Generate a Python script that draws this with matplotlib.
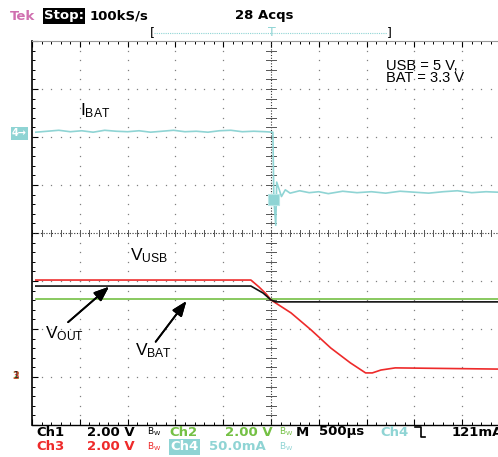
import numpy as np
import matplotlib.pyplot as plt
from matplotlib.patches import Rectangle
from matplotlib.lines import Line2D

plt.rcParams['mathtext.default'] = 'regular'

W, H = 498, 457

# time in ms relative to trigger, 500 us/div
t_vusb = [-2.46, -0.21, -0.125, -0.05, 0.0, 0.21, 0.42, 0.625, 0.83, 0.99, 1.06, 1.15, 1.30, 2.375]
v_usb = [4.08, 4.08, 3.79, 3.50, 3.25, 2.71, 2.00, 1.25, 0.63, 0.21, 0.21, 0.33, 0.42, 0.37]

t_vout = [-2.46, -0.21, -0.083, 0.0, 0.05, 2.375]
v_out = [3.83, 3.83, 3.54, 3.25, 3.17, 3.17]

t_vbat = [-2.46, 2.375]
v_bat = [3.29, 3.29]

t_ibat = [-2.46, -2.34, -2.22, -2.1, -1.98, -1.86, -1.74, -1.62, -1.5, -1.38, -1.26,
          -1.14, -1.02, -0.9, -0.78, -0.66, -0.54, -0.42, -0.3, -0.18, -0.06, 0.02,
          0.03, 0.05, 0.06, 0.08, 0.11, 0.15, 0.2, 0.3, 0.4, 0.5, 0.6, 0.75, 0.9,
          1.05, 1.2, 1.35, 1.5, 1.65, 1.8, 1.95, 2.1, 2.25, 2.375]
i_bat = [0, 1, 2, 0.5, 1.5, 0, 2, 1, 0.5, 1.5, 0, 1, 2, 0.5, 1, 0, 1.5, 2, 0.5, 1, 0.5, 0,
         -70, -97, -52, -58, -67, -60, -63.5, -61, -63, -62, -64, -61.5, -63,
         -62, -63.5, -61.5, -62.5, -63.5, -62, -61, -63, -62, -62.5]

# scope settings
volts_per_div = 2.0
ma_per_div = 50.0
pos_v = -3.02   # ground position of Ch1-3 (div)
pos_i = 2.1     # ground position of Ch4 (div)

c_red = '#ee2a2a'
c_green = '#74c044'
c_cyan = '#8fd4d4'
c_grid = '#808080'


def fx(x):
    return x / W


def fy(y):
    return 1 - y / H


fig = plt.figure(figsize=(W / 100, H / 100), dpi=100)
ax = fig.add_axes([fx(32), fy(425), (W - 32) / W, 384 / H])
ax.set_xlim((32 - 270) / 96, (W - 270) / 96)
ax.set_ylim(-4, 4)

# graticule
for k in range(-4, 5):
    if k == 0:
        continue
    yy = np.arange(-4, 4.01, 0.2)
    ax.plot(np.full_like(yy, k * 0.5), yy, ls='none', marker='s', ms=0.9, color=c_grid, mew=0)
for k in range(-3, 4):
    if k == 0:
        continue
    xx = np.arange(-2.5, 2.5, 0.1)
    ax.plot(xx, np.full_like(xx, k), ls='none', marker='s', ms=0.9, color=c_grid, mew=0)
ax.axhline(0, color='#333333', lw=0.8, ls=(0, (1, 1.5)))
ax.axvline(0, color='#333333', lw=0.8, ls=(0, (1, 1.5)))
for x in np.arange(-2.5, 2.5, 0.1):
    ax.plot([x, x], [-0.07, 0.07], color='#555555', lw=0.7)
for y in np.arange(-4, 4.01, 0.2):
    ax.plot([-0.05, 0.05], [y, y], color='#555555', lw=0.7)

# traces
ax.plot(t_ibat, np.array(i_bat) / ma_per_div + pos_i, color=c_cyan, lw=1.2)
ax.plot(t_vbat, np.array(v_bat) / volts_per_div + pos_v, color=c_green, lw=1.2)
ax.plot(t_vusb, np.array(v_usb) / volts_per_div + pos_v, color=c_red, lw=1.2)
ax.plot(t_vout, np.array(v_out) / volts_per_div + pos_v, color='#111111', lw=1.2)

ax.set_xticks(np.arange(-2.5, 2.4, 0.5))
ax.set_xticks(np.arange(-2.5, 2.4, 0.1), minor=True)
ax.set_yticks(np.arange(-4, 4.1, 1))
ax.set_yticks(np.arange(-4, 4.1, 0.2), minor=True)
ax.tick_params(which='both', direction='in', top=True, bottom=True, left=True, right=False,
               labelbottom=False, labelleft=False)
ax.tick_params(which='major', length=4, width=0.8)
ax.tick_params(which='minor', length=2.5, width=0.7)
for tk in ax.xaxis.get_major_ticks() + ax.xaxis.get_minor_ticks():
    tk.tick2line.set_color('#999999')
ax.spines['right'].set_visible(False)
ax.spines['top'].set_color('#999999')
ax.spines['left'].set_linewidth(1.2)
ax.spines['bottom'].set_linewidth(1.0)

# annotations
lab = dict(transform=fig.transFigure, fontsize=12.5, family='Liberation Sans')
ax.text(fx(80), fy(115), r'$I_{BAT}$', **lab)
ax.text(fx(130), fy(260), r'$V_{USB}$', **lab)
ax.text(fx(45), fy(338), r'$V_{OUT}$', **lab)
ax.text(fx(135), fy(355), r'$V_{BAT}$', **lab)
fig.text(fx(386), fy(69.5), 'USB = 5 V,', family='Liberation Sans', fontsize=10.5)
fig.text(fx(386), fy(82), 'BAT = 3.3 V', family='Liberation Sans', fontsize=10.5)
arrow = dict(arrowstyle='-|>,head_length=0.9,head_width=0.35', color='black', lw=1.3)
fig.add_artist(plt.annotate('', xy=(fx(111), fy(285)), xytext=(fx(66), fy(324)),
                            xycoords='figure fraction', arrowprops=arrow))
fig.add_artist(plt.annotate('', xy=(fx(188), fy(299)), xytext=(fx(154), fy(344)),
                            xycoords='figure fraction', arrowprops=arrow))

# left channel markers
fig.text(fx(12), fy(133.5), '4\u2192', color='white', fontsize=7, va='center', weight='bold',
         bbox=dict(boxstyle='square,pad=0.15', fc=c_cyan, ec='none'))
fig.text(fx(12), fy(376), '2', color=c_green, fontsize=7, va='center', weight='bold')
fig.text(fx(12), fy(376), '3', color=c_red, fontsize=7, va='center', weight='bold', alpha=0.8)
fig.text(fx(13), fy(376), '1', color='#222222', fontsize=6, va='center')

# trigger level marker on Ch4
fig.add_artist(Rectangle((fx(268), fy(205)), 11 / W, 11 / H, transform=fig.transFigure,
                         fc=c_cyan, ec='#b8e6e6', lw=0.8))

# header
st = dict(fontsize=9.5, va='center', weight='bold')
fig.text(fx(10), fy(16), 'Tek', color='#d070b0', **st)
fig.text(fx(44), fy(16), 'Stop:', color='white',
         bbox=dict(boxstyle='square,pad=0.1', fc='black', ec='none'), **st)
fig.text(fx(90), fy(16), '100kS/s', **st)
fig.text(fx(235), fy(16), '28 Acqs', **st)
fig.text(fx(150), fy(33), '[', fontsize=9, va='center')
fig.text(fx(387), fy(33), ']', fontsize=9, va='center')
fig.add_artist(Line2D([fx(154), fx(387)], [fy(33), fy(33)], transform=fig.transFigure,
                      color=c_cyan, lw=0.8, ls=(0, (1, 1))))
fig.text(fx(272), fy(33), 'T', color=c_cyan, fontsize=9, va='center', ha='center')

# footer row 1
bw = r'$B_W$'
fig.text(fx(36), fy(432), 'Ch1', **st)
fig.text(fx(87), fy(432), '2.00 V', **st)
fig.text(fx(147), fy(432), bw, fontsize=6.5, va='center')
fig.text(fx(169), fy(432), 'Ch2', color=c_green, **st)
fig.text(fx(225), fy(432), '2.00 V', color=c_green, **st)
fig.text(fx(279), fy(432), bw, fontsize=6.5, va='center', color=c_green)
fig.text(fx(296), fy(432), 'M', **st)
fig.text(fx(319), fy(432), '500\u00b5s', **st)
fig.text(fx(380), fy(432), 'Ch4', color=c_cyan, **st)
fig.add_artist(Line2D([fx(415), fx(421), fx(421), fx(425)], [fy(427), fy(427), fy(437), fy(437)],
                      transform=fig.transFigure, color='black', lw=1.2))
fig.text(fx(452), fy(432), '121mA', **st)

# footer row 2
fig.text(fx(36), fy(447), 'Ch3', color=c_red, **st)
fig.text(fx(87), fy(447), '2.00 V', color=c_red, **st)
fig.text(fx(147), fy(447), bw, fontsize=6.5, va='center', color=c_red)
fig.text(fx(170), fy(447), 'Ch4', color='white',
         bbox=dict(boxstyle='square,pad=0.1', fc=c_cyan, ec='none'), **st)
fig.text(fx(209), fy(447), '50.0mA', color=c_cyan, **st)
fig.text(fx(279), fy(447), bw, fontsize=6.5, va='center', color=c_cyan)

fig.savefig('out.png', dpi=100)
